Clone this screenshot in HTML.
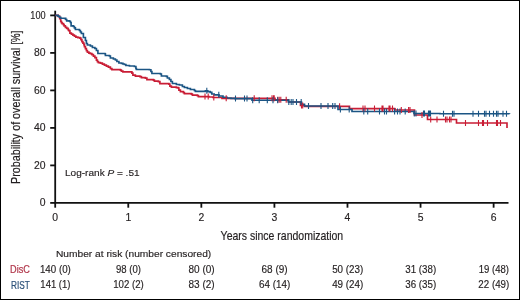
<!DOCTYPE html><html><head><meta charset="utf-8"><style>html,body{margin:0;padding:0;background:#fff}svg{display:block;will-change:transform}text{font-family:"Liberation Sans",sans-serif}</style></head><body>
<svg width="520" height="300" viewBox="0 0 520 300">
<rect x="0" y="0" width="520" height="300" fill="#fff"/>
<rect x="0.5" y="0.5" width="519" height="299" fill="none" stroke="#000" stroke-width="1"/>
<g stroke="#111" stroke-width="1.8" fill="none">
<line x1="55.2" y1="10.7" x2="55.2" y2="202.9"/>
<line x1="54.45" y1="202.9" x2="508.5" y2="202.9"/>
<line x1="50.2" y1="202.90" x2="55.2" y2="202.90"/>
<line x1="50.2" y1="165.40" x2="55.2" y2="165.40"/>
<line x1="50.2" y1="127.90" x2="55.2" y2="127.90"/>
<line x1="50.2" y1="90.40" x2="55.2" y2="90.40"/>
<line x1="50.2" y1="52.90" x2="55.2" y2="52.90"/>
<line x1="50.2" y1="15.40" x2="55.2" y2="15.40"/>
<line x1="55.20" y1="202.9" x2="55.20" y2="207.7"/>
<line x1="128.27" y1="202.9" x2="128.27" y2="207.7"/>
<line x1="201.34" y1="202.9" x2="201.34" y2="207.7"/>
<line x1="274.41" y1="202.9" x2="274.41" y2="207.7"/>
<line x1="347.48" y1="202.9" x2="347.48" y2="207.7"/>
<line x1="420.55" y1="202.9" x2="420.55" y2="207.7"/>
<line x1="493.62" y1="202.9" x2="493.62" y2="207.7"/>
</g>
<path d="M55.3,15.4H58.1V16.3H59.7V18.6H60.7V21.3H61.4V22.6H62.1V23.6H63.4V24.6H64.1V25.9H65.4V27.3H66.7V28.3H68.1V29.6H68.7V30.6H69.9V33.1H71.4V34.1H72.9V35.1H74.4V36.1H75.9V37.1H77.9V37.6H79.9V38.1H80.9V39.6H81.9V41.6H82.9V43.1H83.9V44.6H84.4V46.6H85.4V48.6H86.4V50.6H87.4V52.1H88.9V53.1H90.4V53.6H91.9V54.6H93.4V56.1H94.9V57.6H96.4V60.1H97.4V61.6H98.4V62.6H100.4V63.1H102.4V64.1H104.4V65.1H106.4V66.1H108.4V67.1H110.4V68.6H111.9V69.6H118.4H120.4V70.1H121.4V71.1H122.9V71.8H130.4H131.9V73.1H132.9V75.1H135.4V76.1H139.9V76.6H141.4V77.6H145.4V78.1H146.9V79.6H153.4V80.1H154.4V81.1H158.4V81.6H159.9V83.6H168.9V84.1H169.9V86.1H171.4V87.1H176.4V87.6H178.4V88.1H178.9V90.1H180.4V91.6H183.4V92.6H184.4V93.6H191.4V94.1H192.4V95.1H197.4V95.6H198.4V96.6H204.0H209.0V97.0H213.0V97.5H222.0V98.3H274.5H275.0V99.7H288.0H288.5V102.0H300.0H300.5V105.5H304.0H304.5V106.3H349.2H349.5V108.6H394.6V108.8H395.0V110.0H414.0H414.5V115.0H427.3H427.5V119.5H456.0H456.5V123.0H507.0V128.0" fill="none" stroke="#c91d35" stroke-width="1.65" stroke-linejoin="miter"/>
<path d="M55.3,15.4H58.1V16.2H59.4V17.2H60.7V18.2H64.7V18.4H65.7V19.5H66.7V20.8H69.4V21.2H70.4V22.5H71.1V25.8H73.4V26.5H74.4V27.8H75.4V29.5H79.4V30.5H80.4V32.0H81.4V33.5H83.4V37.5H85.4V40.5H86.4V43.5H87.4V45.0H90.4V46.0H92.4V47.5H94.9V48.5H96.4V50.5H97.9V53.5H104.9V53.7H105.4V55.5H109.4V56.0H110.4V58.0H113.4V59.0H115.4V60.0H116.9V61.5H118.9V63.0H121.4V63.3H122.9V64.0H124.4V64.5H125.9V65.5H129.4V66.0H134.4V66.5H135.9V68.5H136.4V69.5H149.4V69.7H150.9V71.5H151.9V73.5H160.4V74.0H161.4V76.0H166.4V76.3H167.4V78.0H169.4V79.5H170.9V81.5H172.4V83.5H176.4V84.5H179.4V85.0H182.4V86.5H184.4V87.5H187.4V88.5H190.4V89.5H194.4V90.5H195.4V91.3H205.4V90.8H207.8V91.6H210.2V92.4H211.8V94.0H214.2V94.8H219.0V96.0H223.0V97.2H227.0V98.0H231.0V98.4H235.0V98.6H251.5H252.0V100.2H288.0V100.3H288.5V102.0H301.0H301.5V104.3H304.0H304.5V106.0H337.7V106.1H338.0V109.5H351.5H352.0V111.5H413.8H414.0V113.5H440.0V113.7H509.5V113.8" fill="none" stroke="#1b5584" stroke-width="1.65" stroke-linejoin="miter"/>
<path d="M205.0,93.6V99.6M208.2,93.6V99.6M213.8,94.5V100.5M226.2,95.3V101.3M254.2,95.3V101.3M272.0,95.3V101.3M273.5,95.3V101.3M274.2,95.3V101.3M277.7,96.7V102.7M279.2,96.7V102.7M280.8,96.7V102.7M286.2,96.7V102.7M301.5,102.5V108.5M302.7,102.5V108.5M339.6,103.3V109.3M363.0,105.6V111.6M365.0,105.6V111.6M374.5,105.6V111.6M382.0,105.6V111.6M383.0,105.6V111.6M389.0,105.6V111.6M390.0,105.6V111.6M392.5,105.6V111.6M401.3,107.0V113.0M408.6,107.0V113.0M410.0,107.0V113.0M422.0,112.0V118.0M430.7,116.5V122.5M437.0,116.5V122.5M445.5,116.5V122.5M447.0,116.5V122.5M449.5,116.5V122.5M451.0,116.5V122.5M465.5,120.0V126.0M478.5,120.0V126.0M482.5,120.0V126.0M483.5,120.0V126.0M487.5,120.0V126.0M496.5,120.0V126.0M497.5,120.0V126.0M500.5,120.0V126.0" fill="none" stroke="#c91d35" stroke-width="1.1"/>
<path d="M206.8,87.8V93.8M218.8,91.8V97.8M235.5,95.6V101.6M244.5,95.6V101.6M247.0,95.6V101.6M252.7,97.2V103.2M259.2,97.2V103.2M267.3,97.2V103.2M273.0,97.2V103.2M277.7,97.2V103.2M288.8,99.0V105.0M291.2,99.0V105.0M293.0,99.0V105.0M296.5,99.0V105.0M301.2,99.0V105.0M308.5,103.0V109.0M321.0,103.0V109.0M328.0,103.0V109.0M332.7,103.0V109.0M335.0,103.0V109.0M340.4,106.5V112.5M349.2,106.5V112.5M363.8,108.5V114.5M367.7,108.5V114.5M379.5,108.5V114.5M384.5,108.5V114.5M386.5,108.5V114.5M394.6,108.5V114.5M397.5,108.5V114.5M400.0,108.5V114.5M405.2,108.5V114.5M414.3,110.5V116.5M416.0,110.5V116.5M423.5,110.5V116.5M424.5,110.5V116.5M428.5,110.5V116.5M429.5,110.5V116.5M430.5,110.5V116.5M443.5,110.7V116.7M452.5,110.7V116.7M454.0,110.7V116.7M473.0,110.7V116.7M478.5,110.7V116.7M484.5,110.7V116.7M486.0,110.7V116.7M489.5,110.7V116.7M493.5,110.7V116.7M496.5,110.7V116.7M498.0,110.7V116.7M503.0,110.7V116.7M506.5,110.7V116.7" fill="none" stroke="#1b5584" stroke-width="1.1"/>
<g fill="#231f20" font-size="10.4" stroke="#231f20" stroke-width="0.15">
<text x="45.6" y="206.30" text-anchor="end">0</text>
<text x="45.6" y="168.80" text-anchor="end">20</text>
<text x="45.6" y="131.30" text-anchor="end">40</text>
<text x="45.6" y="93.80" text-anchor="end">60</text>
<text x="45.6" y="56.30" text-anchor="end">80</text>
<text x="45.6" y="18.80" text-anchor="end" textLength="15.3" lengthAdjust="spacingAndGlyphs">100</text>
<text x="55.20" y="221" text-anchor="middle">0</text>
<text x="128.27" y="221" text-anchor="middle">1</text>
<text x="201.34" y="221" text-anchor="middle">2</text>
<text x="274.41" y="221" text-anchor="middle">3</text>
<text x="347.48" y="221" text-anchor="middle">4</text>
<text x="420.55" y="221" text-anchor="middle">5</text>
<text x="493.62" y="221" text-anchor="middle">6</text>
</g>
<text x="220.6" y="239.5" font-size="13" fill="#231f20" stroke="#231f20" stroke-width="0.2" textLength="122.6" lengthAdjust="spacingAndGlyphs">Years since randomization</text>
<text transform="translate(20.3,184.0) rotate(-90)" x="0" y="0" font-size="13" fill="#231f20" stroke="#231f20" stroke-width="0.2" textLength="136.2" lengthAdjust="spacingAndGlyphs">Probability of overall survival</text>
<text transform="translate(20.3,44.6) rotate(-90)" x="0" y="0" font-size="13" fill="#231f20" stroke="#231f20" stroke-width="0.2" textLength="14" lengthAdjust="spacingAndGlyphs">[%]</text>
<text x="65.0" y="176.3" font-size="9.8" fill="#231f20" stroke="#231f20" stroke-width="0.15" textLength="74.6" lengthAdjust="spacingAndGlyphs">Log-rank <tspan font-style="italic">P</tspan> = .51</text>
<text x="56" y="256.5" font-size="9.5" fill="#231f20" stroke="#231f20" stroke-width="0.15" textLength="155.2" lengthAdjust="spacingAndGlyphs">Number at risk (number censored)</text>
<text x="10.1" y="272.6" font-size="10" fill="#b03448" stroke="#b03448" stroke-width="0.2" textLength="19.8" lengthAdjust="spacingAndGlyphs">DisC</text>
<text x="11" y="288.5" font-size="10" fill="#2b5079" stroke="#2b5079" stroke-width="0.2" textLength="18.8" lengthAdjust="spacingAndGlyphs">RIST</text>
<g fill="#231f20" font-size="10.1" stroke="#231f20" stroke-width="0.15">
<text x="39.95" y="272.9" textLength="30.9" lengthAdjust="spacingAndGlyphs">140 (0)</text>
<text x="40.35" y="288.4" textLength="30.1" lengthAdjust="spacingAndGlyphs">141 (1)</text>
<text x="115.97" y="272.9" textLength="25.0" lengthAdjust="spacingAndGlyphs">98 (0)</text>
<text x="113.17" y="288.4" textLength="30.6" lengthAdjust="spacingAndGlyphs">102 (2)</text>
<text x="188.44" y="272.9" textLength="26.2" lengthAdjust="spacingAndGlyphs">80 (0)</text>
<text x="188.44" y="288.4" textLength="26.2" lengthAdjust="spacingAndGlyphs">83 (2)</text>
<text x="261.56" y="272.9" textLength="26.1" lengthAdjust="spacingAndGlyphs">68 (9)</text>
<text x="259.06" y="288.4" textLength="31.1" lengthAdjust="spacingAndGlyphs">64 (14)</text>
<text x="332.13" y="272.9" textLength="31.1" lengthAdjust="spacingAndGlyphs">50 (23)</text>
<text x="332.13" y="288.4" textLength="31.1" lengthAdjust="spacingAndGlyphs">49 (24)</text>
<text x="405.30" y="272.9" textLength="30.9" lengthAdjust="spacingAndGlyphs">31 (38)</text>
<text x="405.30" y="288.4" textLength="30.9" lengthAdjust="spacingAndGlyphs">36 (35)</text>
<text x="478.67" y="272.9" textLength="30.3" lengthAdjust="spacingAndGlyphs">19 (48)</text>
<text x="478.37" y="288.4" textLength="30.9" lengthAdjust="spacingAndGlyphs">22 (49)</text>
</g>
</svg></body></html>
